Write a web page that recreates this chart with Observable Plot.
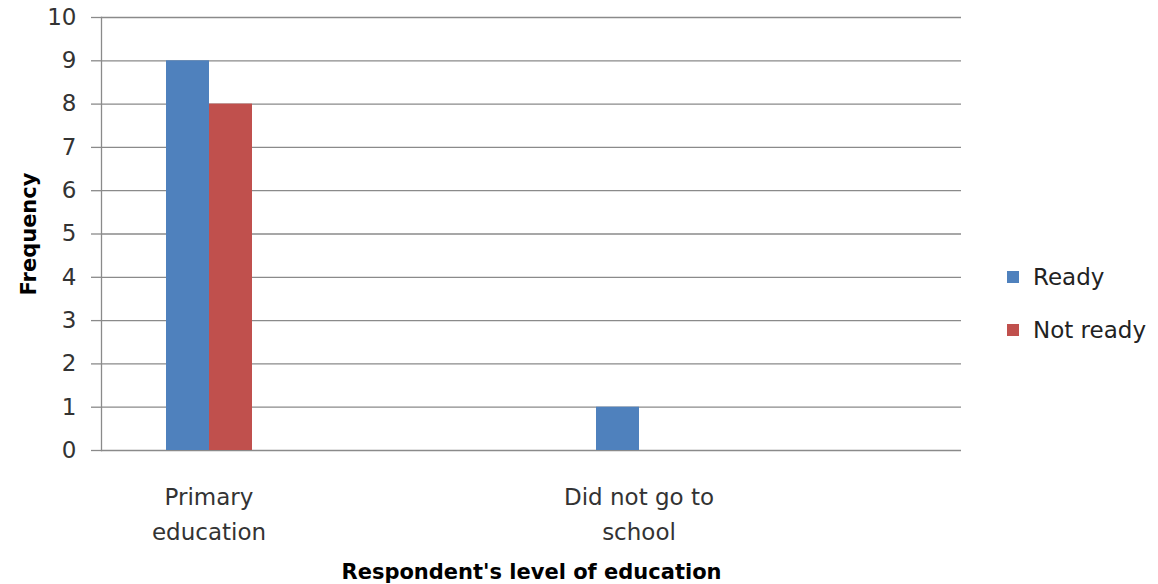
<!DOCTYPE html>
<html>
<head>
<meta charset="utf-8">
<script src="https://cdn.jsdelivr.net/npm/d3@7"></script>
<script src="https://cdn.jsdelivr.net/npm/@observablehq/plot@0.6"></script>
<style>
  html, body { margin: 0; padding: 0; background: #fff; }
  #chart { position: relative; width: 1158px; height: 584px; font-family: "DejaVu Sans", sans-serif; }
  #chart svg [aria-label="y-axis label"] text,
  #chart svg [aria-label="fx-axis label"] text,
  #chart svg [aria-label="y-axis label"],
  #chart svg [aria-label="fx-axis label"] { font-weight: bold; font-size: 21px; fill: #000; }
  .legend { position: absolute; left: 1007px; font-size: 23px; color: #222; display: flex; align-items: center; }
  .legend span.sw { display: inline-block; width: 12px; height: 12px; margin-right: 14px; }
</style>
</head>
<body>
<div id="chart"></div>
<script>
// Education level groups (two empty slots keep the Excel-style spacing)
const categories = ["Primary education", "", "Did not go to school", " "];
const tickLabels = ["Primary\neducation", "", "Did not go to\nschool", ""];
const series = ["Ready", "Not ready"];
const colors = ["#4F81BD", "#C0504D"];
const readyValues = [9, null, 1, null];
const notReadyValues = [8, null, 0, null];
const yTicks = [0, 1, 2, 3, 4, 5, 6, 7, 8, 9, 10];

const rows = [];
categories.forEach((c, i) => {
  if (readyValues[i] != null) rows.push({category: c, series: series[0], value: readyValues[i]});
  if (notReadyValues[i] != null) rows.push({category: c, series: series[1], value: notReadyValues[i]});
});
const labelOf = new Map(categories.map((c, i) => [c, tickLabels[i]]));

// one set of horizontal gridlines per group so every group panel is drawn
const gridRows = categories.flatMap(c => yTicks.map(v => ({category: c, value: v})));

const gridColor = "#8a8a8a";

const plot = Plot.plot({
  width: 1158,
  height: 584,
  marginLeft: 100,
  marginRight: 196,
  marginTop: 17,
  marginBottom: 134,
  style: {fontFamily: "DejaVu Sans, sans-serif", fontSize: "23px", color: "#333", background: "#fff"},
  fx: {domain: categories, padding: 0},
  x: {domain: series, paddingInner: 0, paddingOuter: 1.5, axis: null},
  y: {domain: [0, 10]},
  color: {domain: series, range: colors},
  marks: [
    Plot.ruleY(gridRows, {fx: "category", y: "value", stroke: gridColor, strokeWidth: 1.3}),
    Plot.frame({anchor: "left", facetAnchor: "left", stroke: gridColor, strokeWidth: 1.3}),
    Plot.axisY(yTicks, {
      tickSize: 10, tickPadding: 15, stroke: gridColor, strokeWidth: 1.3,
      tickFormat: d => String(d), fill: "#333", fontSize: 23,
      label: "Frequency", labelArrow: "none", labelAnchor: "center", labelOffset: 80
    }),
    Plot.axisFx({
      anchor: "bottom", tickSize: 0, tickPadding: 29, fontSize: 23, lineHeight: 1.55,
      fill: "#333", tickFormat: d => labelOf.get(d),
      label: "Respondent's level of education", labelArrow: "none", labelAnchor: "center", labelOffset: 128
    }),
    Plot.barY(rows, {fx: "category", x: "series", y: "value", fill: "series"})
  ]
});

const chart = document.getElementById("chart");
chart.appendChild(plot);

// Legend on the right side
const legendTops = [264, 317];
series.forEach((s, i) => {
  const item = document.createElement("div");
  item.className = "legend";
  item.style.top = legendTops[i] + "px";
  const sw = document.createElement("span");
  sw.className = "sw";
  sw.style.background = colors[i];
  item.appendChild(sw);
  item.appendChild(document.createTextNode(s));
  chart.appendChild(item);
});
</script>
</body>
</html>
